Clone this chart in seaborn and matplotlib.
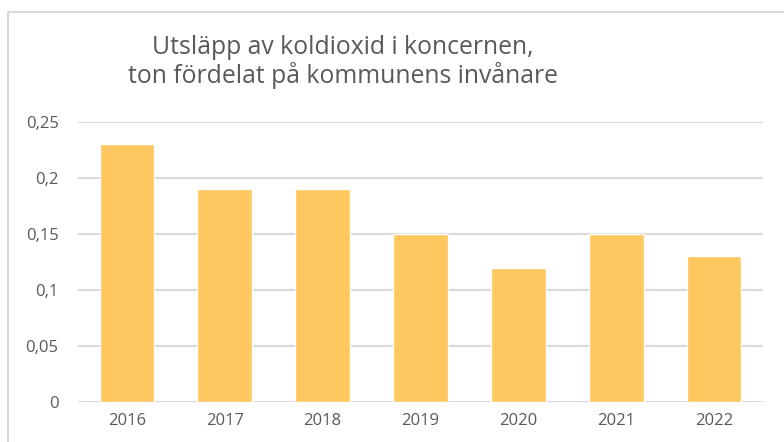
import matplotlib
matplotlib.use("Agg")
import matplotlib.pyplot as plt
import seaborn as sns
import pandas as pd
from matplotlib.patches import Rectangle

years = ["2016", "2017", "2018", "2019", "2020", "2021", "2022"]
values = [0.23, 0.19, 0.19, 0.15, 0.12, 0.15, 0.13]
ytick_vals = [0, 0.05, 0.1, 0.15, 0.2, 0.25]
ytick_labels = ["0", "0,05", "0,1", "0,15", "0,2", "0,25"]
title_text = "Utsläpp av koldioxid i koncernen,\nton fördelat på kommunens invånare"

sns.set_theme(style="white")
plt.rcParams['font.family'] = ['Open Sans', 'DejaVu Sans']

df = pd.DataFrame({"year": years, "value": values})

fig = plt.figure(figsize=(7.84, 4.42), dpi=100)
ax = fig.add_axes([78/784, 1-402/442, (763-78)/784, (402-122)/442])

sns.barplot(data=df, x="year", y="value", color="#FFC75F", saturation=1,
            width=0.56, ax=ax, zorder=3)

ax.set_ylim(0, 0.25)
ax.set_xlim(-0.5, 6.5)
ax.set_yticks(ytick_vals)
ax.set_yticklabels(ytick_labels)
ax.yaxis.grid(True, color="#D9D9D9", linewidth=1.5, zorder=0)
ax.set_axisbelow(True)
for s in ax.spines.values():
    s.set_visible(False)
ax.set_xlabel("")
ax.set_ylabel("")
ax.tick_params(axis="both", length=0, labelsize=12, colors="#595959")
ax.tick_params(axis="y", pad=14)
ax.tick_params(axis="x", pad=8)

fig.text(343/784, 1-62/442, title_text, ha="center", va="center",
         fontsize=17.8, color="#595959", linespacing=1.12)

fig.patches.append(Rectangle((8/784, -0.1), 1.2, 1-12/442+0.1, transform=fig.transFigure,
                             fill=False, edgecolor="#D9D9D9", linewidth=1.5))

fig.savefig("out.png", dpi=100)
